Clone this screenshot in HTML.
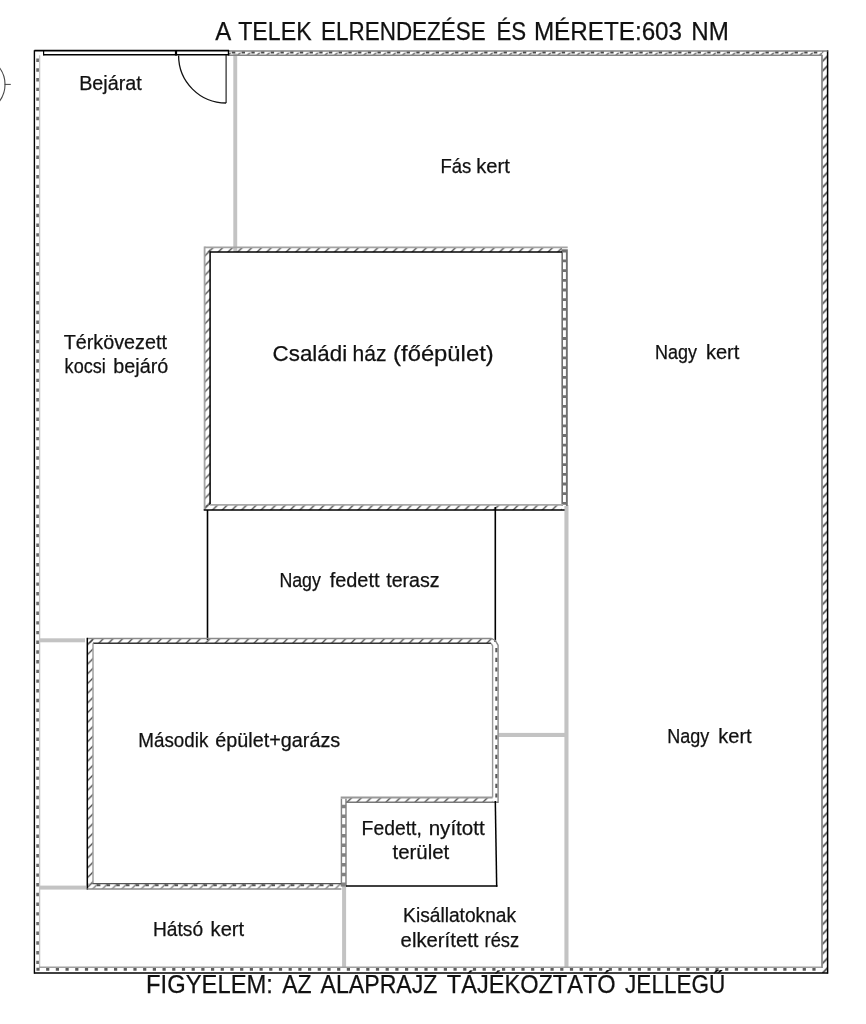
<!DOCTYPE html>
<html lang="hu"><head><meta charset="utf-8"><title>A telek elrendezése</title>
<style>
html,body{margin:0;padding:0;background:#fff;}
body{width:866px;height:1024px;overflow:hidden;}
svg{display:block;}
svg text{font-family:"Liberation Sans", sans-serif;fill:#111;stroke:#111;stroke-width:0.25px;font-kerning:none;}
</style></head><body>
<svg width="866" height="1024" viewBox="0 0 866 1024">
<defs>
<pattern id="h1" patternUnits="userSpaceOnUse" width="9.7" height="9.7" patternTransform="translate(4.8 0)">
<path d="M-1 10.7 L10.7 -1 M-1 1 L1 -1 M8.7 10.7 L10.7 8.7" stroke="#444" stroke-width="1.25" fill="none"/>
</pattern>
<pattern id="h4" patternUnits="userSpaceOnUse" width="9.7" height="9.7" patternTransform="translate(2 0)">
<path d="M-1 10.7 L10.7 -1 M-1 1 L1 -1 M8.7 10.7 L10.7 8.7" stroke="#5c5c5c" stroke-width="1.5" fill="none"/>
</pattern>
<pattern id="h5" patternUnits="userSpaceOnUse" width="9.7" height="9.7" patternTransform="translate(1 0)">
<path d="M-1 10.7 L10.7 -1 M-1 1 L1 -1 M8.7 10.7 L10.7 8.7" stroke="#444" stroke-width="1.6" fill="none"/>
</pattern>
<pattern id="h3" patternUnits="userSpaceOnUse" width="9.7" height="9.7" patternTransform="translate(2 0)">
<path d="M-1 10.7 L10.7 -1 M-1 1 L1 -1 M8.7 10.7 L10.7 8.7" stroke="#777" stroke-width="1.3" fill="none"/>
</pattern>
</defs>
<rect width="866" height="1024" fill="#fff"/>
<g>
<rect x="233.3" y="53.5" width="3.9" height="198.5" fill="#c3c3c3"/>
<rect x="564.4" y="505" width="4.1" height="463" fill="#c3c3c3"/>
<rect x="40" y="638.3" width="45" height="4.0" fill="#c3c3c3"/>
<rect x="40" y="885.6" width="46" height="4.0" fill="#c3c3c3"/>
<rect x="498.5" y="732.9" width="66.5" height="4.1" fill="#c3c3c3"/>
<rect x="342.1" y="886" width="4.0" height="82" fill="#c3c3c3"/>
<line x1="37.6" y1="58" x2="37.6" y2="967.3" stroke="#6c6c6c" stroke-width="2.7" stroke-dasharray="3.4 6.3" stroke-dashoffset="-0.6"/>
<line x1="36.4" y1="969.2" x2="822.0" y2="969.2" stroke="#5e5e5e" stroke-width="3.0" stroke-dasharray="3.2 6.5" stroke-dashoffset="0"/>
<line x1="232" y1="52.4" x2="822.0" y2="52.4" stroke="#4a4a4a" stroke-width="2.2" stroke-dasharray="3.3 6.4" stroke-dashoffset="0"/>
<rect x="229" y="52.6" width="593.0" height="2.8" fill="url(#h4)"/>
<rect x="822.0" y="50.9" width="5.6" height="922.1" fill="url(#h5)"/>
<line x1="34.4" y1="50.2" x2="34.4" y2="973.7" stroke="#000" stroke-width="1.4" />
<line x1="34.4" y1="973.0" x2="827.6" y2="973.0" stroke="#000" stroke-width="1.5" />
<line x1="827.6" y1="50.3" x2="827.6" y2="973.7" stroke="#000" stroke-width="1.5" />
<line x1="229" y1="50.9" x2="827.6" y2="50.9" stroke="#858585" stroke-width="1.5" />
<line x1="39.6" y1="55.3" x2="39.6" y2="967.3" stroke="#c4c4c4" stroke-width="1.3" />
<line x1="39.0" y1="967.3" x2="822.0" y2="967.3" stroke="#a0a0a0" stroke-width="1.4" />
<line x1="822.0" y1="54.7" x2="822.0" y2="967.9" stroke="#8c8c8c" stroke-width="1.8" />
<line x1="229" y1="55.3" x2="822.0" y2="55.3" stroke="#858585" stroke-width="1.5" />
<line x1="34.4" y1="50.6" x2="229" y2="50.6" stroke="#000" stroke-width="1.6" />
<line x1="43.5" y1="54.8" x2="229" y2="54.8" stroke="#000" stroke-width="1.6" />
<line x1="43.6" y1="50" x2="43.6" y2="55.5" stroke="#000" stroke-width="1.2" />
<line x1="176" y1="50" x2="176" y2="55.5" stroke="#000" stroke-width="2.2" />
<line x1="228.5" y1="50" x2="228.5" y2="55.5" stroke="#000" stroke-width="1.4" />
<line x1="226.1" y1="55" x2="226.1" y2="103" stroke="#111" stroke-width="1.1" />
<path d="M178.6 55.5 A47.5 47.5 0 0 0 226.1 103" fill="none" stroke="#111" stroke-width="1.3"/>
<path d="M-1 67 A28.1 28.1 0 0 1 -1 101.8" fill="none" stroke="#444" stroke-width="1.1"/>
<line x1="4.6" y1="84.4" x2="10.8" y2="84.4" stroke="#444" stroke-width="1" />
<rect x="204.6" y="247.3" width="357.4" height="4.8" fill="url(#h1)"/>
<rect x="204.6" y="247.3" width="5.5" height="262.8" fill="url(#h1)"/>
<rect x="204.6" y="504.9" width="357.4" height="5.2" fill="url(#h1)"/>
<rect x="561.4" y="249.3" width="6.4" height="256.6" fill="#707070"/>
<line x1="564.45" y1="252.6" x2="564.45" y2="505.9" stroke="#fff" stroke-width="2.9" stroke-dasharray="6.9 2.8"/>
<line x1="204.6" y1="247.3" x2="567.7" y2="247.3" stroke="#a4a4a4" stroke-width="1.8" />
<line x1="204.6" y1="246.4" x2="204.6" y2="510.1" stroke="#a4a4a4" stroke-width="1.8" />
<line x1="210.1" y1="252.1" x2="562.0" y2="252.1" stroke="#000" stroke-width="1.5" />
<line x1="210.1" y1="251.4" x2="210.1" y2="504.9" stroke="#000" stroke-width="1.5" />
<line x1="210.1" y1="504.9" x2="563.0" y2="504.9" stroke="#a8a8a8" stroke-width="1.8" />
<line x1="203.7" y1="510.1" x2="564.6" y2="510.1" stroke="#000" stroke-width="1.5" />
<line x1="207.5" y1="510" x2="207.5" y2="640" stroke="#000" stroke-width="1.6" />
<line x1="495.3" y1="507" x2="495.3" y2="642" stroke="#000" stroke-width="1.6" />
<rect x="87.3" y="638.5" width="405.3" height="4.8" fill="url(#h1)"/>
<rect x="87.3" y="638.5" width="5.7" height="250.5" fill="url(#h1)"/>
<rect x="87.3" y="883.6" width="254.1" height="5.4" fill="url(#h3)"/>
<line x1="97" y1="885.2" x2="339.4" y2="885.2" stroke="#555" stroke-width="2.0" stroke-dasharray="3.4 6.3" stroke-dashoffset="0"/>
<rect x="346.0" y="797.5" width="146.6" height="4.8" fill="url(#h1)"/>
<line x1="496.4" y1="648" x2="496.4" y2="797.5" stroke="#5a5a5a" stroke-width="2.2" stroke-dasharray="4.2 5.5" stroke-dashoffset="0"/>
<rect x="340.7" y="798.5" width="6.0" height="88.1" fill="#828282"/>
<line x1="343.7" y1="798.6" x2="343.7" y2="883.1" stroke="#fff" stroke-width="3.1" stroke-dasharray="6.2 3.5"/>
<line x1="87.3" y1="638.5" x2="491.6" y2="638.5" stroke="#8a8a8a" stroke-width="1.4" />
<line x1="93.0" y1="643.3" x2="491.1" y2="643.3" stroke="#333" stroke-width="1.4" />
<line x1="87.3" y1="637.8" x2="87.3" y2="889.7" stroke="#000" stroke-width="1.5" />
<line x1="93.0" y1="643.3" x2="93.0" y2="883.6" stroke="#a0a0a0" stroke-width="1.5" />
<line x1="92.3" y1="883.6" x2="341.4" y2="883.6" stroke="#555" stroke-width="1.4" />
<line x1="87.3" y1="889.0" x2="341.4" y2="889.0" stroke="#8c8c8c" stroke-width="1.5" />
<path d="M491.1 643.3 L492.6 645.8 L492.6 797.5" fill="none" stroke="#999" stroke-width="1.4"/>
<path d="M491.6 638.5 L495.3 640.5 L498.1 645.3 L498.1 803.0" fill="none" stroke="#888" stroke-width="1.4"/>
<line x1="340.7" y1="797.5" x2="492.6" y2="797.5" stroke="#9a9a9a" stroke-width="1.8" />
<line x1="346.0" y1="802.3" x2="498.1" y2="802.3" stroke="#777" stroke-width="1.5" />
<line x1="346" y1="886" x2="497.4" y2="886" stroke="#000" stroke-width="1.6" />
<line x1="495.3" y1="801" x2="496.7" y2="886.8" stroke="#000" stroke-width="1.5" />
</g>
<g style="filter:grayscale(1)">
<text y="39.9" font-size="25.3"><tspan x="215.2" textLength="16.0" lengthAdjust="spacingAndGlyphs">A</tspan> <tspan x="238.2" textLength="73.4" lengthAdjust="spacingAndGlyphs">TELEK</tspan> <tspan x="321.1" textLength="164.6" lengthAdjust="spacingAndGlyphs">ELRENDEZÉSE</tspan> <tspan x="496.5" textLength="29.7" lengthAdjust="spacingAndGlyphs">ÉS</tspan> <tspan x="533.9" textLength="148.2" lengthAdjust="spacingAndGlyphs">MÉRETE:603</tspan> <tspan x="691.3" textLength="37.5" lengthAdjust="spacingAndGlyphs">NM</tspan></text>
<text y="993.3" font-size="25.3"><tspan x="146.1" textLength="126.8" lengthAdjust="spacingAndGlyphs">FIGYELEM:</tspan> <tspan x="282.2" textLength="29.5" lengthAdjust="spacingAndGlyphs">AZ</tspan> <tspan x="320.6" textLength="116.8" lengthAdjust="spacingAndGlyphs">ALAPRAJZ</tspan> <tspan x="446.8" textLength="168.9" lengthAdjust="spacingAndGlyphs">TÁJÉKOZTATÓ</tspan> <tspan x="625.1" textLength="100.2" lengthAdjust="spacingAndGlyphs">JELLEGŰ</tspan></text>
<text x="79.2" y="89.9" font-size="19.3" textLength="62.6" lengthAdjust="spacingAndGlyphs">Bejárat</text>
<text y="173.2" font-size="19.3"><tspan x="440.5" textLength="30.9" lengthAdjust="spacingAndGlyphs">Fás</tspan> <tspan x="476.2" textLength="33.6" lengthAdjust="spacingAndGlyphs">kert</tspan></text>
<text y="361.3" font-size="22.8"><tspan x="272.6" textLength="74.5" lengthAdjust="spacingAndGlyphs">Családi</tspan> <tspan x="352.6" textLength="33.9" lengthAdjust="spacingAndGlyphs">ház</tspan> <tspan x="393.1" textLength="100.6" lengthAdjust="spacingAndGlyphs">(főépület)</tspan></text>
<text y="358.7" font-size="19.3"><tspan x="655.0" textLength="42.0" lengthAdjust="spacingAndGlyphs">Nagy</tspan> <tspan x="705.9" textLength="33.5" lengthAdjust="spacingAndGlyphs">kert</tspan></text>
<text x="63.7" y="348.8" font-size="19.3" textLength="103.3" lengthAdjust="spacingAndGlyphs">Térkövezett</text>
<text y="372.7" font-size="19.3"><tspan x="64.6" textLength="41.2" lengthAdjust="spacingAndGlyphs">kocsi</tspan> <tspan x="113.3" textLength="54.9" lengthAdjust="spacingAndGlyphs">bejáró</tspan></text>
<text y="587.4" font-size="19.3"><tspan x="279.4" textLength="41.5" lengthAdjust="spacingAndGlyphs">Nagy</tspan> <tspan x="329.7" textLength="49.8" lengthAdjust="spacingAndGlyphs">fedett</tspan> <tspan x="386.2" textLength="53.4" lengthAdjust="spacingAndGlyphs">terasz</tspan></text>
<text y="747.4" font-size="19.3"><tspan x="138.3" textLength="70.0" lengthAdjust="spacingAndGlyphs">Második</tspan> <tspan x="215.3" textLength="124.9" lengthAdjust="spacingAndGlyphs">épület+garázs</tspan></text>
<text y="742.9" font-size="19.3"><tspan x="667.3" textLength="42.0" lengthAdjust="spacingAndGlyphs">Nagy</tspan> <tspan x="718.2" textLength="33.5" lengthAdjust="spacingAndGlyphs">kert</tspan></text>
<text y="834.9" font-size="19.3"><tspan x="361.6" textLength="60.2" lengthAdjust="spacingAndGlyphs">Fedett,</tspan> <tspan x="428.7" textLength="56.0" lengthAdjust="spacingAndGlyphs">nyított</tspan></text>
<text x="392.5" y="859.4" font-size="19.3" textLength="56.8" lengthAdjust="spacingAndGlyphs">terület</text>
<text y="936.2" font-size="19.3"><tspan x="153.0" textLength="50.1" lengthAdjust="spacingAndGlyphs">Hátsó</tspan> <tspan x="210.6" textLength="33.6" lengthAdjust="spacingAndGlyphs">kert</tspan></text>
<text x="403.1" y="922.4" font-size="19.3" textLength="113.0" lengthAdjust="spacingAndGlyphs">Kisállatoknak</text>
<text y="946.9" font-size="19.3"><tspan x="400.6" textLength="77.9" lengthAdjust="spacingAndGlyphs">elkerített</tspan> <tspan x="484.6" textLength="34.6" lengthAdjust="spacingAndGlyphs">rész</tspan></text>
</g>
</svg>
</body></html>
